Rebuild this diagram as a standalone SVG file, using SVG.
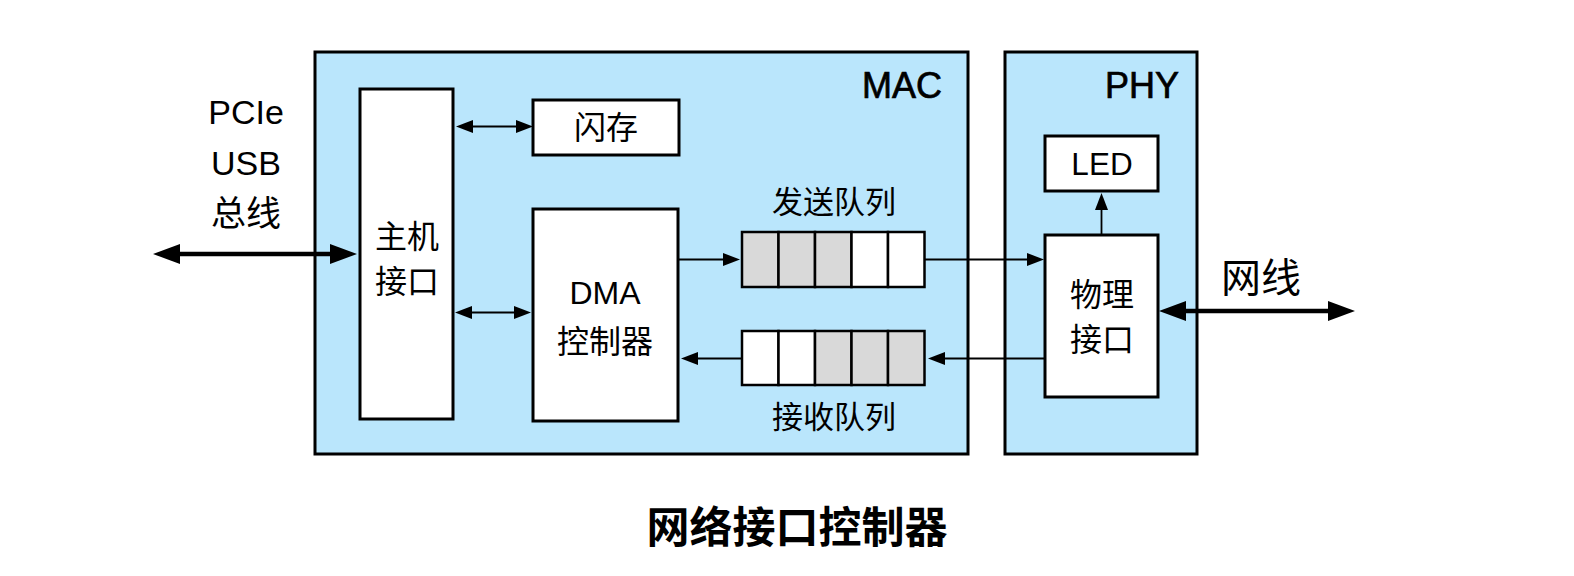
<svg xmlns="http://www.w3.org/2000/svg" width="1574" height="576" viewBox="0 0 1574 576">
  <style>
    .panel { fill: #bae6fc; stroke: #000; stroke-width: 3; }
    .box { fill: #fff; stroke: #000; stroke-width: 3; }
    .cell { stroke: #000; stroke-width: 2.5; }
    .full { fill: #d9d9d9; }
    .empty { fill: #fff; }
    .t { font-family: "Liberation Sans", "Noto Sans CJK SC", sans-serif; fill: #000; text-anchor: middle; }
    .lbl { font-size: 32px; }
    .head { font-size: 36px; stroke: #000; stroke-width: 0.7; text-anchor: end; }
    .title { font-size: 43px; font-weight: bold; }
    .wire { stroke: #000; stroke-width: 1.8; fill: none; }
    .bus { stroke: #000; stroke-width: 4.5; fill: none; }
  </style>
  <defs>
    <marker id="ah" markerUnits="userSpaceOnUse" markerWidth="17" markerHeight="13" refX="1" refY="6.5" orient="auto-start-reverse">
      <path d="M0,0 L17,6.5 L0,13 z" fill="#000"/>
    </marker>
    <marker id="ahb" markerUnits="userSpaceOnUse" markerWidth="27" markerHeight="20" refX="1" refY="10" orient="auto-start-reverse">
      <path d="M0,0 L27,10 L0,20 z" fill="#000"/>
    </marker>
  </defs>

  <!-- MAC block -->
  <g id="mac">
    <rect class="panel" x="315" y="52" width="653" height="402"/>
    <text class="t head" x="942" y="98">MAC</text>
  </g>

  <!-- PHY block -->
  <g id="phy">
    <rect class="panel" x="1005" y="52" width="192" height="402"/>
    <text class="t head" x="1179" y="98">PHY</text>
  </g>

  <!-- bus label -->
  <g id="bus-label">
    <text class="t" font-size="34" x="246" y="124">PCIe</text>
    <text class="t" font-size="34" x="246" y="175">USB</text>
    <text class="t" font-size="35" x="246" y="226">总线</text>
  </g>

  <g id="host-if">
    <rect class="box" x="360" y="89" width="93" height="330"/>
    <text class="t lbl" x="407" y="248">主机</text>
    <text class="t lbl" x="407" y="293">接口</text>
  </g>

  <g id="flash">
    <rect class="box" x="533" y="100" width="146" height="55"/>
    <text class="t lbl" x="606" y="139">闪存</text>
  </g>

  <g id="dma">
    <rect class="box" x="533" y="209" width="145" height="212"/>
    <text class="t lbl" x="605" y="304">DMA</text>
    <text class="t lbl" x="605" y="353">控制器</text>
  </g>

  <g id="tx-queue">
    <rect class="cell full" x="742" y="232" width="36.5" height="55"/>
    <rect class="cell full" x="778.5" y="232" width="36.5" height="55"/>
    <rect class="cell full" x="815" y="232" width="36.5" height="55"/>
    <rect class="cell empty" x="851.5" y="232" width="36.5" height="55"/>
    <rect class="cell empty" x="888" y="232" width="36.5" height="55"/>
    <text class="t" font-size="31" x="834" y="213">发送队列</text>
  </g>

  <g id="rx-queue">
    <rect class="cell empty" x="742" y="331" width="36.5" height="54"/>
    <rect class="cell empty" x="778.5" y="331" width="36.5" height="54"/>
    <rect class="cell full" x="815" y="331" width="36.5" height="54"/>
    <rect class="cell full" x="851.5" y="331" width="36.5" height="54"/>
    <rect class="cell full" x="888" y="331" width="36.5" height="54"/>
    <text class="t" font-size="31" x="834" y="428">接收队列</text>
  </g>

  <g id="led">
    <rect class="box" x="1045" y="136" width="113" height="55"/>
    <text class="t" font-size="31.5" x="1102" y="175">LED</text>
  </g>

  <g id="phy-if">
    <rect class="box" x="1045" y="235" width="113" height="162"/>
    <text class="t lbl" x="1102" y="306">物理</text>
    <text class="t lbl" x="1102" y="351">接口</text>
  </g>

  <g id="cable-label">
    <text class="t" font-size="40" x="1261" y="292">网线</text>
  </g>

  <!-- connectors -->
  <g id="connectors">
    <line class="bus" x1="179" y1="254" x2="331" y2="254" marker-start="url(#ahb)" marker-end="url(#ahb)"/>
    <line class="wire" x1="472" y1="126.5" x2="517" y2="126.5" marker-start="url(#ah)" marker-end="url(#ah)"/>
    <line class="wire" x1="471" y1="312.5" x2="515" y2="312.5" marker-start="url(#ah)" marker-end="url(#ah)"/>
    <line class="wire" x1="678" y1="259.5" x2="724" y2="259.5" marker-end="url(#ah)"/>
    <line class="wire" x1="925" y1="259.5" x2="1028" y2="259.5" marker-end="url(#ah)"/>
    <line class="wire" x1="1045" y1="358.5" x2="944" y2="358.5" marker-end="url(#ah)"/>
    <line class="wire" x1="742" y1="358.5" x2="697" y2="358.5" marker-end="url(#ah)"/>
    <line class="wire" x1="1101.5" y1="235" x2="1101.5" y2="209" marker-end="url(#ah)"/>
    <line class="bus" x1="1185" y1="311" x2="1329" y2="311" marker-start="url(#ahb)" marker-end="url(#ahb)"/>
  </g>

  <g id="caption">
    <text class="t title" x="797" y="543">网络接口控制器</text>
  </g>
</svg>
